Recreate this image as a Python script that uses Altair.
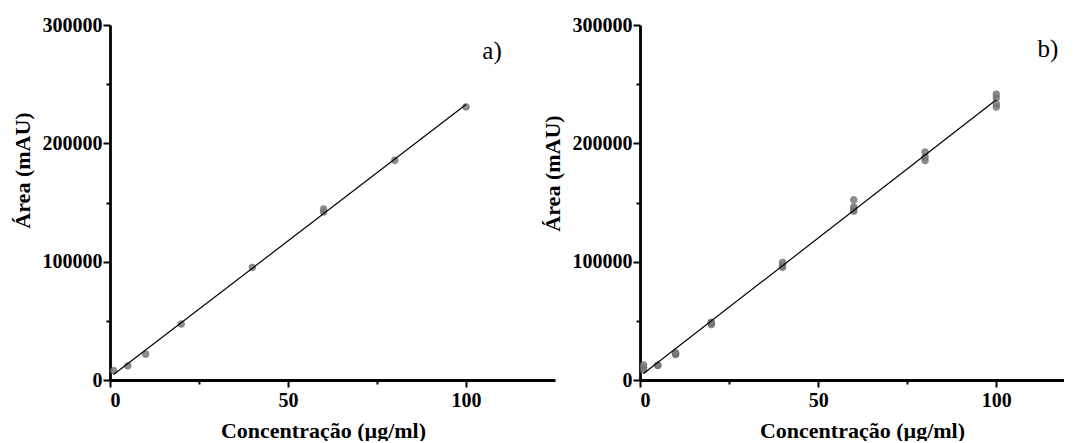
import altair as alt
import pandas as pd

# Panel a) calibration points
conc_a = [1, 5, 10, 20, 40, 60, 60, 80, 100]
area_a = [8000, 12000, 21800, 47300, 95200, 142000, 144500, 185700, 230800]

# Panel b) calibration points (replicates)
conc_b = [1, 1, 1, 5, 5, 10, 10, 10, 20, 20, 20, 40, 40, 40,
          60, 60, 60, 60, 80, 80, 80, 100, 100, 100, 100]
area_b = [8500, 10500, 12800, 12200, 12600, 21500, 22300, 23000,
          46800, 48000, 48800, 95200, 97000, 99400,
          142600, 144500, 146300, 152300, 185500, 188500, 192600,
          230700, 233500, 238600, 241500]

x_ticks = [0, 25, 50, 75, 100]
y_ticks = [0, 50000, 100000, 150000, 200000, 250000, 300000]
panel_labels = ["a)", "b)"]

FONT = "Liberation Serif"


def panel(df, xmax, width, label, lx, ly, title_x, title_y):
    xs = alt.Scale(domain=[0, xmax], nice=False, zero=True)
    ys = alt.Scale(domain=[0, 300000], nice=False)
    xaxis = alt.Axis(
        title="Concentração (µg/ml)",
        values=x_ticks,
        labelExpr="datum.value % 50 == 0 ? datum.label : ''",
        tickSize={"condition": {"test": "datum.value % 50 != 0", "value": 4}, "value": 7},
        labelPadding=3,
        titlePadding=10,
        titleX=title_x,
    )
    yaxis = alt.Axis(
        title="Área (mAU)",
        values=y_ticks,
        format="d",
        labelExpr="datum.value % 100000 == 0 ? datum.label : ''",
        tickSize={"condition": {"test": "datum.value % 100000 != 0", "value": 4}, "value": 7},
        labelPadding=1,
        titlePadding=8,
        titleY=title_y,
    )
    base = alt.Chart(df)
    pts = base.mark_circle(
        size=46, color="#7a7a7a", opacity=0.85, stroke="#5e5e5e", strokeWidth=0.6
    ).encode(
        x=alt.X("conc:Q", scale=xs, axis=xaxis),
        y=alt.Y("area:Q", scale=ys, axis=yaxis),
    )
    line = base.transform_regression("conc", "area").mark_line(
        color="black", strokeWidth=1.2
    ).encode(x="conc:Q", y="area:Q")
    txt = alt.Chart(pd.DataFrame({"t": [label]})).mark_text(
        font=FONT, fontSize=25, color="black"
    ).encode(text="t:N", x=alt.value(lx), y=alt.value(ly))
    return alt.layer(pts, line, txt).properties(width=width, height=355)


da = pd.DataFrame({"conc": conc_a, "area": area_a})
db = pd.DataFrame({"conc": conc_b, "area": area_b})

pa = panel(da, 125, 445, panel_labels[0], 382, 26, 213, 145)
pb = panel(db, 119, 424, panel_labels[1], 408, 24, 222, 148)

chart = alt.hconcat(pa, pb, spacing=85, bounds="flush").properties(
    padding={"left": 3, "top": 7, "right": 0, "bottom": 0},
    background="white",
).configure_view(stroke=None).configure_axis(
    grid=False,
    domainColor="black",
    domainWidth=2.8,
    tickColor="black",
    tickWidth=2,
    labelFont=FONT,
    labelFontWeight="bold",
    labelFontSize=20,
    labelColor="black",
    titleFont=FONT,
    titleFontWeight="bold",
    titleFontSize=22,
    titleColor="black",
)

chart.save("out.html", embed_options={"renderer": "svg", "actions": False})
